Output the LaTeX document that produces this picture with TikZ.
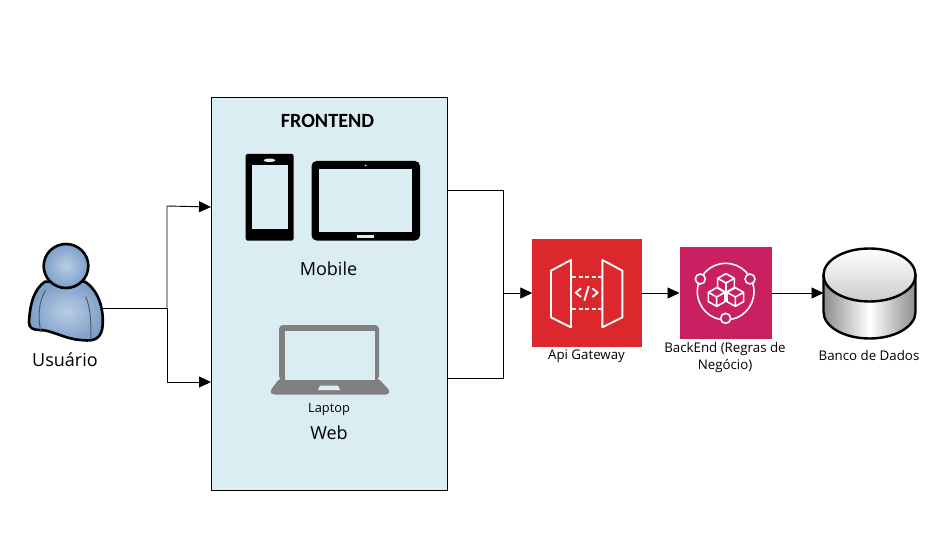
\documentclass[tikz,border=0pt]{standalone}
\usepackage{fontspec}
\setmainfont{Open Sans}
\newfontfamily\titlefont{Carlito}
\usetikzlibrary{arrows.meta}
\definecolor{frontblue}{HTML}{DAEDF3}
\definecolor{gatewayred}{HTML}{DC272D}
\definecolor{backendpink}{HTML}{C92061}
\definecolor{laptopgray}{HTML}{808080}
\definecolor{userlight}{HTML}{B9CDE5}
\definecolor{userdark}{HTML}{7D9FC9}
\newcommand{\isocube}[2]{
	\draw[white,line width=1.6pt,line join=round] (#1,#2-28) -- (#1+25,#2-14) -- (#1+25,#2+14) -- (#1,#2+28) -- (#1-25,#2+14) -- (#1-25,#2-14) -- cycle
		(#1-25,#2-14) -- (#1,#2) -- (#1+25,#2-14) (#1,#2) -- (#1,#2+28);
}
\begin{document}
\begin{tikzpicture}[
		x=1pt,y=-1pt,
		flow/.style={draw=black,line width=0.9pt},
		flowtip/.style={flow,-{Triangle[length=12pt,width=11pt]}},
		label/.style={inner sep=0pt,align=center,font=\fontsize{13.3}{17}\selectfont},
		biglabel/.style={inner sep=0pt,font=\fontsize{18}{21}\selectfont},
		holder/.style={inner sep=0pt,outer sep=0pt}
		]
		\useasboundingbox[fill=white] (0,0) rectangle (926,548);

		% frontend box
		\node[holder,draw=black,line width=0.9pt,fill=frontblue,minimum width=236pt,minimum height=393pt] (frontend) at (329,293.5) {};
		\node[inner sep=0pt,font=\titlefont\bfseries\fontsize{20.2}{24}\selectfont] (title) at (327.5,121) {FRONTEND};

		% phone
		\node[holder] (phone) at (269.5,197) {};
		\fill[black,rounded corners=1.5pt] (245.5,154) rectangle (293.5,240.5);
		\fill[frontblue] (251.5,165) rectangle (287.5,228.5);
		\fill[frontblue] (269.5,160.3) ellipse[x radius=6,y radius=1.7];
		% tablet
		\node[holder] (tablet) at (365.5,201) {};
		\fill[black,rounded corners=5pt] (311.5,161) rectangle (420,240.5);
		\fill[frontblue] (319,169) rectangle (412,231.5);
		\fill[frontblue] (365.5,165.5) circle[radius=1];
		\fill[frontblue] (357,234.5) rectangle (374,237.5);
		\node[biglabel] (mobile) at (328.5,269) {Mobile};

		% laptop
		\node[holder] (laptop) at (330,360) {};
		\fill[laptopgray,rounded corners=4pt] (279,380) -- (279,325) -- (379,325) -- (379,380) -- cycle;
		\fill[laptopgray,rounded corners=2.5pt] (279,379) -- (379,379) -- (390,391) -- (388,394.5) -- (272,394.5) -- (270,391) -- cycle;
		\fill[frontblue] (285,331) rectangle (375,379.5);
		\fill[frontblue] (320,385.5) -- (338,385.5) -- (340,390) -- (318,390) -- cycle;
		\node[label,font=\fontsize{12.8}{16}\selectfont] (laptoplabel) at (329,409.5) {Laptop};
		\node[biglabel] (web) at (329,432.5) {Web};

		% user
		\node[holder,minimum width=74pt,minimum height=96pt] (user) at (66,292) {};
		\begin{scope}[shift={(15,235)},scale=1/3]
			\shade[inner color=userlight,outer color=userdark,draw=black,line width=2.6pt,line join=round]
				(90,140) .. controls (60,160) and (45,200) .. (42,262) .. controls (42,280) and (55,285) .. (75,285)
				.. controls (110,285) and (150,312) .. (195,315) .. controls (225,318) and (255,320) .. (262,280)
				.. controls (268,230) and (255,170) .. (210,140) -- cycle;
			\draw[black!65,line width=1pt] (92,165) .. controls (70,200) and (68,250) .. (78,292);
			\draw[black!65,line width=1pt] (212,185) .. controls (228,220) and (228,270) .. (228,310);
			\shade[inner color=userlight,outer color=userdark,draw=black,line width=2.6pt]
				(153,93) ellipse[x radius=67,y radius=66];
		\end{scope}
		\node[biglabel] (userlabel) at (65,360) {Usuário};

		% api gateway
		\node[holder,fill=gatewayred,minimum width=109.5pt,minimum height=108pt] (gateway) at (587,293) {};
		\begin{scope}[shift={(525,230)},scale=1/3,white,line width=1.9pt,line join=round]
			\draw (78,122) -- (138,90) -- (138,292) -- (78,262) -- cycle;
			\draw (232,90) -- (292,122) -- (292,262) -- (232,292) -- cycle;
			\draw[dash pattern=on 4pt off 2.5pt] (141,142) -- (232,142) (141,238) -- (232,238);
			\draw (168,175) -- (152,188) -- (168,201) (202,175) -- (218,188) -- (202,201) (191,168) -- (178,212);
		\end{scope}
		\node[label] (gatewaylabel) at (586.5,356.5) {Api Gateway};

		% backend
		\node[holder,fill=backendpink,minimum width=92pt,minimum height=92pt] (backend) at (725.5,293) {};
		\begin{scope}[shift={(660,235)},scale=1/3]
			\draw[white,line width=1.6pt] (197,170) circle[radius=85];
			\foreach \cx/\cy in {121/132,270/132,197/250}
				\draw[white,fill=backendpink,line width=1.6pt] (\cx,\cy) circle[radius=15];
			\isocube{198}{144}
			\isocube{170}{186}
			\isocube{226}{186}
		\end{scope}
		\node[label] (backendlabel) at (725,358) {BackEnd (Regras de\\Negócio)};

		% database
		\node[holder,minimum width=92pt,minimum height=92pt] (database) at (869.5,293) {};
		\shade[left color=black!45,right color=black!45,middle color=white,draw=black,line width=2.4pt]
			(823.5,275) -- (823.5,312) arc[start angle=180,end angle=0,x radius=46,y radius=26.5] -- (915.5,275) -- cycle;
		\shade[top color=white,bottom color=black!20,draw=black,line width=2.4pt]
			(869.5,275) ellipse[x radius=46,y radius=26.5];
		\node[label] (databaselabel) at (869,355.5) {Banco de Dados};

		% connectors
		\coordinate (fork) at (167,308);
		\coordinate (merge) at (503,293);
		\draw[flow] (user.east |- fork) -- (fork);
		\draw[flowtip] (fork) -- (167,206) -- (frontend.west |- 0,207);
		\draw[flowtip] (fork) -- (167,382) -- (frontend.west |- 0,382);
		\draw[flow] (frontend.east |- 0,190) -- (503,190) -- (merge);
		\draw[flow] (frontend.east |- 0,378) -- (503,378) -- (merge);
		\draw[flowtip] (merge) -- (gateway.west);
		\draw[flowtip] (gateway.east) -- (backend.west);
		\draw[flowtip] (backend.east) -- (database.west);
\end{tikzpicture}
\end{document}
